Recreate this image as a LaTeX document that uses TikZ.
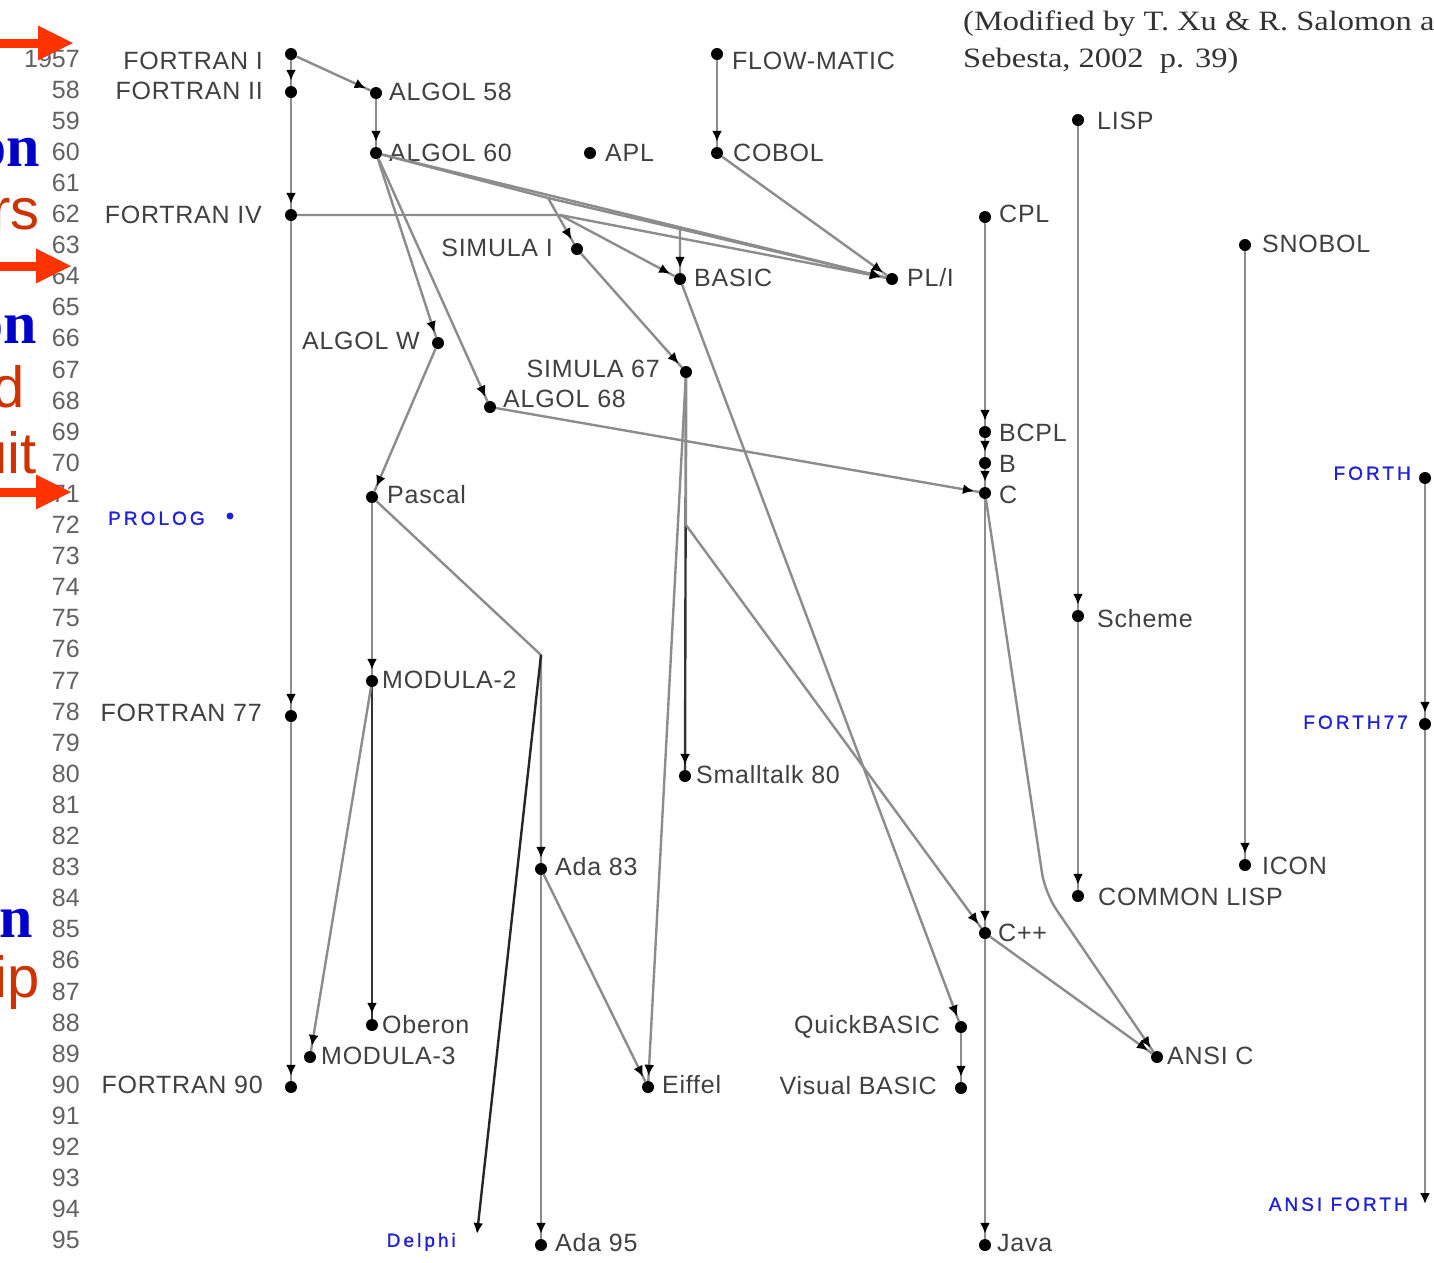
\documentclass[tikz,border=0pt]{standalone}
\usepackage{fontspec}
\setmainfont{Liberation Sans}
\newfontfamily\notefont[FakeStretch=1.16]{Liberation Serif}
\newfontfamily\fragfont{Liberation Serif}
\newfontfamily\lblfont[LetterSpace=3]{Liberation Sans}
\newfontfamily\bluefont[LetterSpace=16,FakeBold=1.2]{Liberation Sans}
\usetikzlibrary{arrows.meta,decorations.markings}
\definecolor{slidered}{HTML}{CC3300}
\definecolor{arrowred}{HTML}{FF3300}
\definecolor{slideblue}{HTML}{0000CC}
\definecolor{lblblue}{HTML}{2020D8}
\tikzset{
  dot/.style={circle, fill=black, inner sep=0pt, minimum size=12pt},
  bdot/.style={circle, fill=lblblue, inner sep=0pt, minimum size=7pt},
  lbl/.style={font=\lblfont\fontsize{25}{27}\selectfont, text=black!75, inner sep=0pt, text height=18pt, text depth=0pt},
  blbl/.style={font=\bluefont\fontsize{19}{21}\selectfont, text=lblblue, inner sep=0pt, text height=13.6pt, text depth=0pt},
  yr/.style={font=\fontsize{25}{27}\selectfont, text=black!62, inner sep=0pt, anchor=east, text height=18pt, text depth=0pt},
  note/.style={font=\notefont\fontsize{28}{30}\selectfont, text=black!80, inner sep=0pt},
  link/.style={draw=black!45, line width=2.4pt, postaction={decorate},
    decoration={markings, mark=at position -5pt with {\arrow{Latex[length=11pt,width=10pt,color=black]}}}},
  darklink/.style={link, draw=black!80},
  endlink/.style={draw=black!45, line width=2.4pt, -{Latex[length=11pt,width=10pt,color=black]}},
  redarrow/.style={draw=arrowred, line width=9pt, -{Triangle[length=36pt,width=32pt]}},
  fragblue/.style={font=\fragfont\bfseries\fontsize{60}{60}\selectfont, text=slideblue, inner sep=0pt, anchor=base east},
  fragred/.style={font=\fontsize{58}{58}\selectfont, text=slidered, inner sep=0pt, anchor=base east}
}
\begin{document}
\begin{tikzpicture}[x=1pt,y=-1pt]
\useasboundingbox (0,0) rectangle (1434,1262);
\fill[white] (0,0) rectangle (1434,1262);

% year column
\node[yr] (y57) at (80,58) {1957};
\foreach \n in {58,...,95} {
  \node[yr] (y\n) at (80,{58+(\n-57)*31.1}) {\n};
}

% cut-off slide words at the left edge
\node[fragblue] (fr1) at (40,166) {on};
\node[fragred]  (fr2) at (40,229) {rs};
\node[fragblue] (fr3) at (37,343) {on};
\node[fragred]  (fr4) at (25,407) {d};
\node[fragred]  (fr5) at (37,473) {uit};
\node[fragblue] (fr6) at (33,937) {on};
\node[fragred]  (fr7) at (40,997) {ip};

% red pointers
\coordinate (r1s) at (-2,43);  \coordinate (r1e) at (74,43);
\coordinate (r2s) at (-2,266); \coordinate (r2e) at (72,266);
\coordinate (r3s) at (-2,492); \coordinate (r3e) at (72,492);
\draw[redarrow] (r1s) -- (r1e);
\draw[redarrow] (r2s) -- (r2e);
\draw[redarrow] (r3s) -- (r3e);

% note
\node[note, anchor=base west] (note1) at (963,30) {(Modified by T. Xu \& R. Salomon and};
\node[note, anchor=base west] (note2) at (963,67) {Sebesta, 2002\ \ p. 39)};

% dots
\node[dot] (f1) at (291,54) {};
\node[dot] (f2) at (291,92) {};
\node[dot] (f4) at (291,215) {};
\node[dot] (f77) at (291,716) {};
\node[dot] (f90) at (291,1087) {};
\node[dot] (a58) at (376,93) {};
\node[dot] (a60) at (376,153) {};
\node[dot] (apl) at (590,153) {};
\node[dot] (flow) at (717,54) {};
\node[dot] (cobol) at (717,153) {};
\node[dot] (lisp) at (1078,120) {};
\node[dot] (cpl) at (985,217) {};
\node[dot] (snobol) at (1245,245) {};
\node[dot] (sim1) at (577,249) {};
\node[dot] (basic) at (680,279) {};
\node[dot] (pli) at (892,279) {};
\node[dot] (algw) at (438,343) {};
\node[dot] (sim67) at (686,372) {};
\node[dot] (a68) at (490,407) {};
\node[dot] (bcpl) at (985,432) {};
\node[dot] (bb) at (985,463) {};
\node[dot] (cc) at (985,493) {};
\node[dot] (forth) at (1425,478) {};
\node[dot] (pascal) at (372,497) {};
\node[bdot] (prolog) at (230,516) {};
\node[dot] (scheme) at (1078,616) {};
\node[dot] (mod2) at (372,681) {};
\node[dot] (forth77) at (1425,724) {};
\node[dot] (small) at (685,776) {};
\node[dot] (ada83) at (541,869) {};
\node[dot] (icon) at (1245,865) {};
\node[dot] (cl) at (1078,896) {};
\node[dot] (cpp) at (985,933) {};
\node[dot] (oberon) at (372,1025) {};
\node[dot] (qb) at (961,1027) {};
\node[dot] (mod3) at (310,1057) {};
\node[dot] (ansic) at (1157,1057) {};
\node[dot] (eiffel) at (648,1087) {};
\node[dot] (vb) at (961,1088) {};
\node[dot] (ada95) at (541,1245) {};
\node[dot] (java) at (985,1245) {};
\coordinate (ansif) at (1425,1204);
\coordinate (delphi) at (477,1234);

% labels right of dots
\node[lbl, anchor=west] (a58l) at (389,91) {ALGOL 58};
\node[lbl, anchor=west] (a60l) at (389,152) {ALGOL 60};
\node[lbl, anchor=west] (apll) at (605,152) {APL};
\node[lbl, anchor=west] (flowl) at (732,60) {FLOW-MATIC};
\node[lbl, anchor=west] (coboll) at (733,152) {COBOL};
\node[lbl, anchor=west] (lispl) at (1097,120) {LISP};
\node[lbl, anchor=west] (cpll) at (999,213) {CPL};
\node[lbl, anchor=west] (snoboll) at (1262,243) {SNOBOL};
\node[lbl, anchor=west] (basicl) at (694,277) {BASIC};
\node[lbl, anchor=west] (plil) at (907,277) {PL/I};
\node[lbl, anchor=west] (a68l) at (503,398) {ALGOL 68};
\node[lbl, anchor=west] (bcpll) at (999,432) {BCPL};
\node[lbl, anchor=west] (bbl) at (999,463) {B};
\node[lbl, anchor=west] (ccl) at (999,494) {C};
\node[lbl, anchor=west] (pascall) at (387,494) {Pascal};
\node[lbl, anchor=west] (schemel) at (1097,618) {Scheme};
\node[lbl, anchor=west] (mod2l) at (382,679) {MODULA-2};
\node[lbl, anchor=west] (smalll) at (696,774) {Smalltalk 80};
\node[lbl, anchor=west] (ada83l) at (555,866) {Ada 83};
\node[lbl, anchor=west] (iconl) at (1262,865) {ICON};
\node[lbl, anchor=west] (cll) at (1098,896) {COMMON LISP};
\node[lbl, anchor=west] (cppl) at (998,932) {C++};
\node[lbl, anchor=west] (oberonl) at (382,1024) {Oberon};
\node[lbl, anchor=west] (mod3l) at (321,1055) {MODULA-3};
\node[lbl, anchor=west] (ansicl) at (1167,1055) {ANSI C};
\node[lbl, anchor=west] (eiffell) at (662,1084) {Eiffel};
\node[lbl, anchor=west] (ada95l) at (555,1242) {Ada 95};
\node[lbl, anchor=west] (javal) at (997,1242) {Java};

% labels left of dots
\node[lbl, anchor=east] (f1l) at (263,60) {FORTRAN I};
\node[lbl, anchor=east] (f2l) at (263,90) {FORTRAN II};
\node[lbl, anchor=east] (f4l) at (262,214) {FORTRAN IV};
\node[lbl, anchor=east] (f77l) at (262,712) {FORTRAN 77};
\node[lbl, anchor=east] (f90l) at (263,1084) {FORTRAN 90};
\node[lbl, anchor=east] (sim1l) at (553,247) {SIMULA I};
\node[lbl, anchor=east] (algwl) at (420,340) {ALGOL W};
\node[lbl, anchor=east] (sim67l) at (660,368) {SIMULA 67};
\node[lbl, anchor=east] (qbl) at (940,1024) {QuickBASIC};
\node[lbl, anchor=east] (vbl) at (937,1085) {Visual BASIC};

% blue labels
\node[blbl, anchor=west] (prologl) at (108,518) {PROLOG};
\node[blbl, anchor=east] (forthl) at (1411,473) {FORTH};
\node[blbl, anchor=east] (forth77l) at (1408,722) {FORTH77};
\node[blbl, anchor=east] (ansifl) at (1408,1204) {ANSI FORTH};
\node[blbl, anchor=east] (delphil) at (456,1240) {Delphi};

% junction points
\coordinate (j1) at (548,198);
\coordinate (j2) at (560,215);
\coordinate (j3) at (680,229);
\coordinate (j4) at (686,525);
\coordinate (j5) at (1045,893);
\coordinate (j6) at (541,655);

% connectors
\draw[link] (f1) -- (f2);
\draw[link] (f2) -- (f4);
\draw[link] (f4) -- (f77);
\draw[link] (f77) -- (f90);
\draw[link] (f1) -- (a58);
\draw[link] (a58) -- (a60);
\draw[link] (flow) -- (cobol);
\draw[link] (cobol) -- (pli);
\draw[link] (a60) -- (pli);
\draw[link] (a60) -- (j1) -- (sim1);
\draw[link] (j1) -- (j3) -- (basic);
\draw[link] (j3) -- (pli);
\draw[link] (f4) -- (j2) -- (basic);
\draw[link] (j2) -- (pli);
\draw[link] (a60) -- (algw);
\draw[link] (a60) -- (a68);
\draw[link] (algw) -- (pascal);
\draw[link] (sim1) -- (sim67);
\draw[darklink] (sim67) -- (small);
\draw[link] (sim67) -- (eiffel);
\draw[link] (sim67) -- (j4) -- (cpp);
\draw[link] (a68) -- (cc);
\draw[link] (cpl) -- (bcpl);
\draw[link] (bcpl) -- (bb);
\draw[link] (bb) -- (cc);
\draw[link] (cc) -- (cpp);
\draw[link] (cpp) -- (java);
\draw[link, rounded corners=20pt] (cc) -- (j5) -- (ansic);
\draw[link] (cpp) -- (ansic);
\draw[link] (basic) -- (qb);
\draw[link] (qb) -- (vb);
\draw[link] (pascal) -- (mod2);
\draw[darklink] (mod2) -- (oberon);
\draw[link] (mod2) -- (mod3);
\draw[link] (pascal) -- (j6) -- (ada83);
\draw[endlink, draw=black!85] (j6) -- (delphi);
\draw[link] (ada83) -- (ada95);
\draw[link] (ada83) -- (eiffel);
\draw[link] (lisp) -- (scheme);
\draw[link] (scheme) -- (cl);
\draw[link] (snobol) -- (icon);
\draw[link] (forth) -- (forth77);
\draw[endlink] (forth77) -- (ansif);
\end{tikzpicture}
\end{document}
